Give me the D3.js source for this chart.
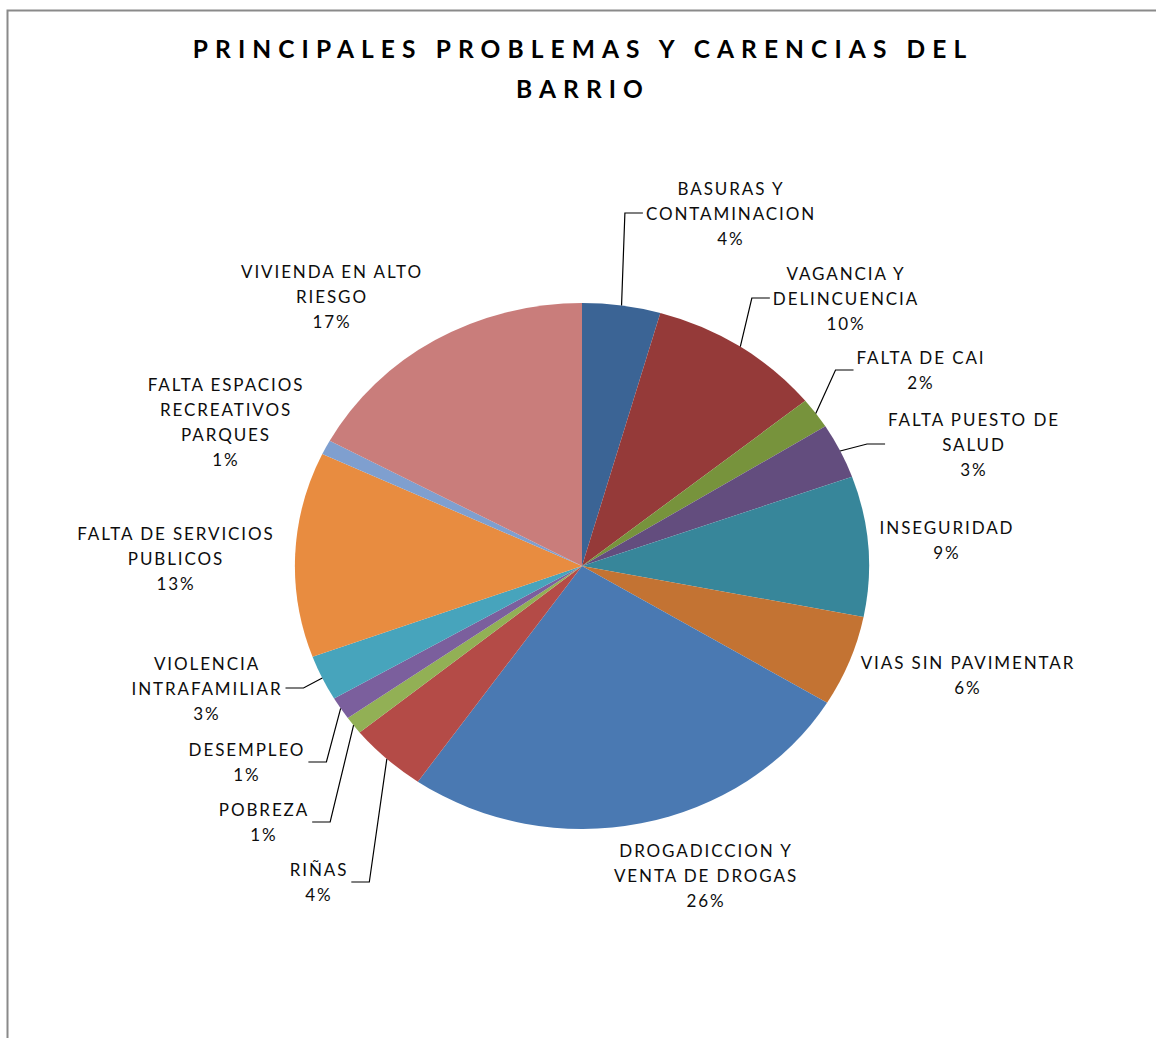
<!DOCTYPE html>
<html lang="es">
  <head>
    <meta charset='utf-8'>
    <script src='https://d3js.org/d3.v7.min.js'></script>
    <title>Principales problemas y carencias del barrio</title>
    <style>
      body { margin: 0px; background: #fff; }
      .title { font-family: Lato, sans-serif; font-weight: bold; font-size: 24.5px; letter-spacing: 7.1px; fill: #000; }
      .lbl { font-family: Lato, sans-serif; font-size: 17px; letter-spacing: 1.9px; fill: #0d0d0d; }
      .leader { stroke: #000; stroke-width: 1.2; fill: none; }
    </style>
  </head>
  <body>
    <div id="viz"></div>
    <script>
      // categories, clockwise from 12 o'clock
      const categories = [
        ['BASURAS Y', 'CONTAMINACION'],
        ['VAGANCIA Y', 'DELINCUENCIA'],
        ['FALTA DE CAI'],
        ['FALTA PUESTO DE', 'SALUD'],
        ['INSEGURIDAD'],
        ['VIAS SIN PAVIMENTAR'],
        ['DROGADICCION Y', 'VENTA DE DROGAS'],
        ['RIÑAS'],
        ['POBREZA'],
        ['DESEMPLEO'],
        ['VIOLENCIA', 'INTRAFAMILIAR'],
        ['FALTA DE SERVICIOS', 'PUBLICOS'],
        ['FALTA ESPACIOS', 'RECREATIVOS', 'PARQUES'],
        ['VIVIENDA EN ALTO', 'RIESGO']
      ];
      // shares in percent
      const values = [4.4, 9.8, 1.9, 3.4, 8.6, 5.6, 26.0, 4.4, 1.1, 1.4, 2.8, 12.6, 0.9, 17.1];
      const colors = ['#3b6495', '#953a39', '#77933c', '#634d7e', '#37869a', '#c37333',
                      '#4a79b2', '#b44b47', '#92b055', '#7b5f9d', '#47a4bc', '#e88c40',
                      '#7f9fcf', '#c97d7b'];
      const titleLines = ['PRINCIPALES PROBLEMAS Y CARENCIAS DEL', 'BARRIO'];

      // label block placement (centre x, centre y) and whether a leader line is drawn
      const labelPos = [
        [730, 213, true], [845, 298, true], [920, 370, true], [973, 444, true],
        [946, 540, false], [967, 675, false], [705, 875, false], [318, 882, true],
        [263, 822, true], [246, 762, true], [206, 688, true], [175, 558, false],
        [225, 422, false], [331, 296, false]
      ];

      const width = 1156, height = 1038;
      const cx = 582, cy = 566, rx = 287, ry = 263;
      const lineH = 25;

      const svg = d3.select('#viz').append('svg')
        .attr('width', width)
        .attr('height', height);

      // chart frame (runs off the right and bottom)
      svg.append('rect')
        .attr('x', 7.5).attr('y', 10.5)
        .attr('width', 1200).attr('height', 1100)
        .attr('fill', 'none')
        .attr('stroke', '#8a8a8a')
        .attr('stroke-width', 2);

      // title
      svg.selectAll('.title').data(titleLines).enter()
        .append('text')
          .attr('class', 'title')
          .attr('x', 583)
          .attr('y', (d, i) => 48 + i * 40)
          .attr('text-anchor', 'middle')
          .attr('dominant-baseline', 'central')
          .text(d => d);

      const total = d3.sum(values);
      const pie = d3.pie().sort(null).value(d => d);
      const arcs = pie(values);
      const arc = d3.arc().innerRadius(0).outerRadius(1);

      // unit pie stretched into an ellipse
      svg.append('g')
          .attr('transform', `translate(${cx},${cy}) scale(${rx},${ry})`)
        .selectAll('path')
        .data(arcs).enter()
        .append('path')
          .attr('d', arc)
          .attr('fill', (d, i) => colors[i]);

      const edgePoint = a => [cx + rx * Math.sin(a), cy - ry * Math.cos(a)];

      const labels = svg.append('g');
      arcs.forEach((d, i) => {
        const [lx, ly, hasLeader] = labelPos[i];
        const lines = categories[i].concat([Math.round(d.value / total * 100) + '%']);
        const g = labels.append('g');
        const top = ly - (lines.length - 1) * lineH / 2;
        g.selectAll('text').data(lines).enter()
          .append('text')
            .attr('class', 'lbl')
            .attr('x', lx + 1)
            .attr('y', (t, j) => top + j * lineH)
            .attr('text-anchor', 'middle')
            .attr('dominant-baseline', 'central')
            .text(t => t);

        if (hasLeader) {
          const bb = g.node().getBBox();
          const mid = (d.startAngle + d.endAngle) / 2;
          const start = edgePoint(mid);
          const right = lx > start[0];
          const endX = right ? bb.x - 3 : bb.x + bb.width + 3;
          const elbowX = right ? endX - 18 : endX + 18;
          labels.append('path')
            .attr('class', 'leader')
            .attr('d', d3.line()([start, [elbowX, ly], [endX, ly]]));
        }
      });
    </script>
  </body>
</html>
